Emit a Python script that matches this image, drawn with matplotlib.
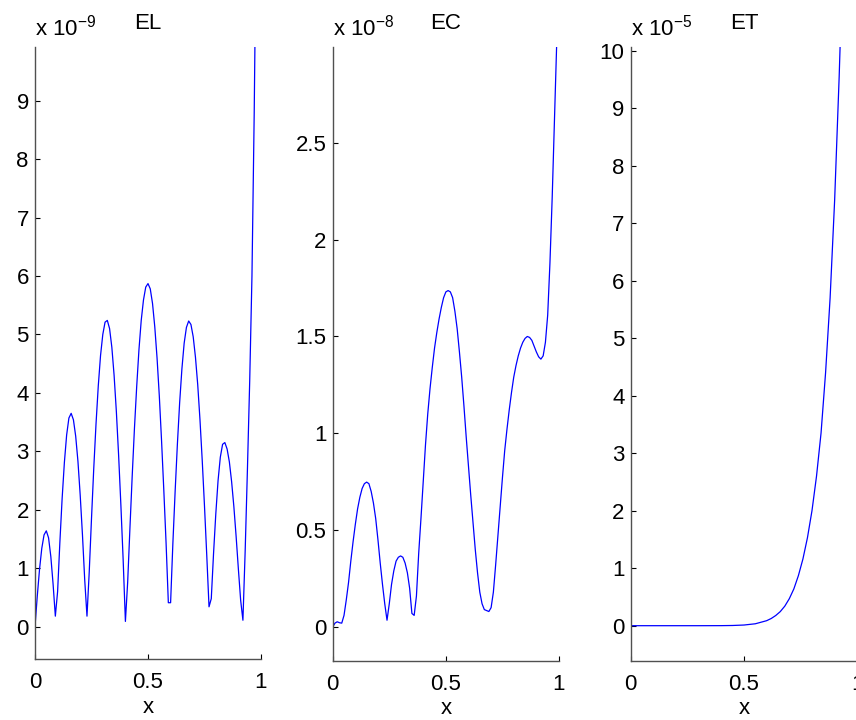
import matplotlib
matplotlib.use("Agg")
import matplotlib.pyplot as plt

plt.rcParams['font.family'] = ['Liberation Sans', 'DejaVu Sans']
plt.rcParams['mathtext.fontset'] = 'custom'
plt.rcParams['mathtext.rm'] = 'Liberation Sans'
plt.rcParams['mathtext.it'] = 'Liberation Sans:italic'

# sample points, step 0.01
x = [i / 100 for i in range(101)]

# EL, in units of 1e-9
el = [0.00, 0.52, 0.98, 1.34, 1.57, 1.64, 1.52, 1.20, 0.73, 0.18,
      0.60, 1.44, 2.19, 2.81, 3.28, 3.57, 3.65, 3.54, 3.26, 2.83,
      2.25, 1.57, 0.80, 0.18, 0.94, 1.85, 2.71, 3.47, 4.12, 4.64,
      5.00, 5.21, 5.24, 5.10, 4.78, 4.30, 3.68, 2.93, 2.08, 1.15,
      0.09, 0.76, 1.68, 2.57, 3.39, 4.11, 4.74, 5.24, 5.59, 5.81,
      5.87, 5.78, 5.53, 5.13, 4.60, 3.95, 3.18, 2.33, 1.43, 0.41,
      0.41, 1.42, 2.31, 3.12, 3.83, 4.41, 4.85, 5.12, 5.23, 5.17,
      4.96, 4.61, 4.14, 3.54, 2.84, 2.06, 1.22, 0.34, 0.48, 1.25,
      1.93, 2.50, 2.90, 3.12, 3.15, 3.04, 2.82, 2.48, 2.05, 1.54,
      0.98, 0.45, 0.11, 1.30, 2.70, 4.20, 6.00, 8.80, 12.5, 17.0,
      23.0]

# EC, in units of 1e-8
ec = [0.00, 0.02, 0.027, 0.022, 0.02, 0.06, 0.14, 0.23, 0.34, 0.44,
      0.53, 0.61, 0.67, 0.715, 0.74, 0.748, 0.74, 0.70, 0.64, 0.56,
      0.45, 0.33, 0.22, 0.12, 0.035, 0.12, 0.22, 0.29, 0.34, 0.36,
      0.367, 0.36, 0.33, 0.28, 0.20, 0.07, 0.06, 0.16, 0.38, 0.56,
      0.75, 0.94, 1.10, 1.23, 1.34, 1.44, 1.52, 1.59, 1.65, 1.70,
      1.73, 1.737, 1.73, 1.70, 1.63, 1.54, 1.42, 1.29, 1.14, 0.98,
      0.83, 0.68, 0.54, 0.40, 0.28, 0.18, 0.12, 0.09, 0.085, 0.08,
      0.10, 0.18, 0.32, 0.47, 0.62, 0.77, 0.91, 1.02, 1.12, 1.21,
      1.29, 1.35, 1.40, 1.44, 1.47, 1.49, 1.50, 1.495, 1.48, 1.45,
      1.42, 1.395, 1.383, 1.40, 1.47, 1.61, 1.88, 2.22, 2.62, 3.02,
      3.5]

# ET, in units of 1e-5
x_et = [0.0, 0.1, 0.2, 0.3, 0.4, 0.45, 0.5, 0.55, 0.6, 0.62, 0.64, 0.66,
        0.68, 0.70, 0.72, 0.74, 0.76, 0.78, 0.80, 0.82, 0.84, 0.86, 0.88,
        0.90, 0.92, 0.94, 0.96, 0.98, 1.0]
et = [0.0, 0.0, 0.0, 0.0, 0.001, 0.0037, 0.0117, 0.0334, 0.0872, 0.125,
      0.177, 0.245, 0.34, 0.47, 0.64, 0.87, 1.16, 1.53, 2.0, 2.6,
      3.35, 4.40, 5.70, 7.40, 9.55, 12.1, 15.3, 19.2, 24.0]

titles = ['EL', 'EC', 'ET']
exps = ['-9', '-8', '-5']
yticks = [list(range(10)), [0, 0.5, 1, 1.5, 2, 2.5], list(range(11))]
ytlabels = [[str(v) for v in yticks[0]],
            ['0', '0.5', '1', '1.5', '2', '2.5'],
            [str(v) for v in yticks[2]]]
ylims = [(-0.553, 9.923), (-0.1755, 2.996), (-0.614, 10.07)]
xs = [x, x, x_et]
ys = [el, ec, et]

# axes boxes in pixels: left, bottom, right, top (fig is 856x720)
boxes = [(35, 659, 261, 46.7), (332.7, 661, 559, 46.7), (630.7, 661, 857.3, 46.7)]

fig = plt.figure(figsize=(8.56, 7.2), dpi=100)
W, H = 856, 720
spine_col = '#505050'

for i in range(3):
    l, b, r, t = boxes[i]
    ax = fig.add_axes([l / W, (H - b) / H, (r - l) / W, (b - t) / H])
    ax.plot(xs[i], ys[i], color='#0000ff', lw=0.9)
    ax.set_xlim(0, 1)
    ax.set_ylim(*ylims[i])
    ax.set_xticks([0, 0.5, 1])
    ax.set_xticklabels(['0', '0.5', '1'])
    ax.set_yticks(yticks[i])
    ax.set_yticklabels(ytlabels[i])
    for s in ['top', 'right']:
        ax.spines[s].set_visible(False)
    for s in ['left', 'bottom']:
        ax.spines[s].set_color(spine_col)
        ax.spines[s].set_linewidth(1.0)
    ax.tick_params(direction='in', length=3.6, width=0.8, colors='black',
                   labelsize=16)
    ax.tick_params(axis='x', pad=9)
    ax.tick_params(axis='y', pad=4.5)
    ax.set_xlabel('x', fontsize=16, labelpad=3.5 if i == 0 else 2.5)
    ax.annotate(titles[i], xy=(0.5, 1), xycoords='axes fraction',
                xytext=(0, 12.5), textcoords='offset points',
                ha='center', va='baseline', fontsize=16)
    ax.annotate('x 10$^{' + exps[i] + '}$', xy=(0, 1), xycoords='axes fraction',
                xytext=(0, 8.4), textcoords='offset points',
                ha='left', va='baseline', fontsize=16)

fig.savefig('out.png', dpi=100)
